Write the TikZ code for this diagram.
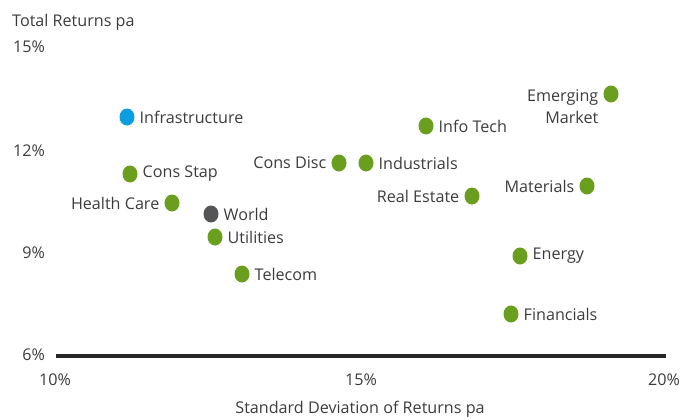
\documentclass[tikz,border=0pt]{standalone}
\usepackage{fontspec}
\setmainfont{Open Sans}
\usetikzlibrary{shapes.geometric}
\definecolor{dotgreen}{HTML}{6A9E1F}
\definecolor{dotblue}{HTML}{0A9EE0}
\definecolor{dotgray}{HTML}{555557}
\definecolor{txt}{HTML}{3C3C3C}
\begin{document}
\begin{tikzpicture}[x=1bp,y=-1bp,
  every node/.style={font=\fontsize{16.2}{22}\selectfont, text=txt, inner sep=0pt},
  pt/.style={ellipse, minimum width=15bp, minimum height=17bp, fill=dotgreen, draw=none},
  ptb/.style={pt, fill=dotblue},
  ptg/.style={pt, fill=dotgray},
  lr/.style={anchor=west, xshift=12.5bp},
  ll/.style={anchor=east, xshift=-12.5bp},
  axis/.style={line width=3.5bp, draw=black!85}]
\useasboundingbox (0,0) rectangle (684,416);
% axis
\coordinate (ax0) at (56,356);
\coordinate (ax1) at (666,356);
\draw[axis] (ax0) -- (ax1);
% y labels
\node[anchor=west] (ytitle) at (12,22) {Total Returns pa};
\node[anchor=east] (y15) at (45,47) {15\%};
\node[anchor=east] (y12) at (45,151) {12\%};
\node[anchor=east] (y9) at (45,253) {9\%};
\node[anchor=east] (y6) at (45,355) {6\%};
% x labels
\node (x10) at (55,380) {10\%};
\node (x15) at (361,380) {15\%};
\node (x20) at (664,380) {20\%};
\node (xtitle) at (360,409) {Standard Deviation of Returns pa};
% points
\node[ptb] (infra) at (127,117) {};
\node[lr] (infraL) at (infra.center) {Infrastructure};
\node[pt] (cstap) at (130,174) {};
\node[lr] (cstapL) at (cstap.center) {Cons Stap};
\node[pt] (health) at (172,203) {};
\node[ll] (healthL) at (health.center) {Health Care};
\node[ptg] (world) at (211,214) {};
\node[lr] (worldL) at (world.center) {World};
\node[pt] (util) at (215,237) {};
\node[lr] (utilL) at (util.center) {Utilities};
\node[pt] (tele) at (242,274) {};
\node[lr] (teleL) at (tele.center) {Telecom};
\node[pt] (cdisc) at (339,163) {};
\node[ll] (cdiscL) at (cdisc.center) {Cons Disc};
\node[pt] (indus) at (366,163) {};
\node[lr] (indusL) at (indus.center) {Industrials};
\node[pt] (info) at (426,126) {};
\node[lr] (infoL) at (info.center) {Info Tech};
\node[pt] (real) at (472,196) {};
\node[ll] (realL) at (real.center) {Real Estate};
\node[pt] (emerg) at (611,94) {};
\node[anchor=north east, align=right, xshift=-12.5bp, yshift=5bp, font=\fontsize{16.2}{23}\selectfont] (emergL) at (emerg.center) {Emerging\\Market};
\node[pt] (mat) at (587,186) {};
\node[ll] (matL) at (mat.center) {Materials};
\node[pt] (energy) at (520,256) {};
\node[lr] (energyL) at (energy.center) {Energy};
\node[pt] (fin) at (511,314) {};
\node[lr] (finL) at (fin.center) {Financials};
\end{tikzpicture}
\end{document}
